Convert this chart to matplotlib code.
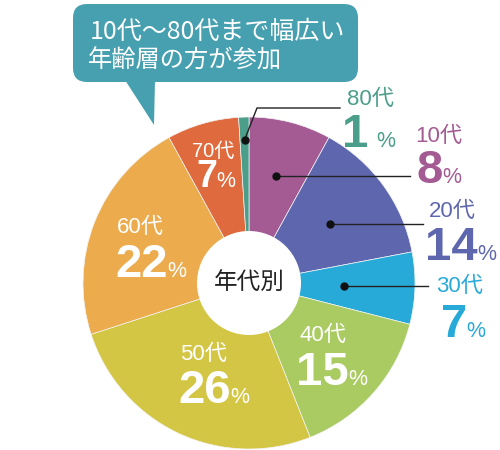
import matplotlib
matplotlib.use("Agg")
import matplotlib.pyplot as plt
from matplotlib.patches import FancyBboxPatch, Polygon, Circle
import numpy as np

# ---- data ----
categories = ["10代", "20代", "30代", "40代", "50代", "60代", "70代", "80代"]
percents = [8, 14, 7, 15, 26, 22, 7, 1]
colors = ["#A45A93", "#5E67AE", "#28AAD8", "#AACB62", "#D4C645", "#ECAC4E", "#DF6A3D", "#4A9E8A"]
center_label = "年代別"
bubble_lines = ["10代〜80代まで幅広い", "年齢層の方が参加"]

# ---- layout (pixel coords, y down) ----
W, H = 500, 450
CX, CY, R, R_IN = 249, 283, 166, 52

# label layout: (small-label left x, small baseline y, junction x, number baseline y,
#                inside, small fs, number fs, % gap)
label_layout = {
    "10代": (415, 142, 443, 183, False, 16, 34, -1),
    "20代": (429, 217, 478, 260, False, 16, 34, -1),
    "30代": (436, 292, 467, 337, False, 16, 34, -1),
    "40代": (300, 341, 349, 385, True, 16, 34, -1),
    "50代": (180, 360, 231, 403, True, 16, 34, -1),
    "60代": (117, 233, 168, 277, True, 16, 34, -1),
    "70代": (192, 157, 217, 187, True, 14.5, 27, -1),
    "80代": (347, 105, 368, 147, False, 16, 34, 8),
}
# leader lines: dot radius, optional elbow point, end x
leaders = {
    "10代": (110, None, 410),
    "20代": (100, None, 423),
    "30代": (95, None, 428),
    "80代": (143, (257, 108), 340),
}

def Y(y):
    return H - y

fig = plt.figure(figsize=(5, 4.5), dpi=100)
ax = fig.add_axes([0, 0, 1, 1])

wedges, _ = ax.pie(percents, colors=colors, startangle=90, counterclock=False,
                   center=(CX, Y(CY)), radius=R, frame=True,
                   wedgeprops=dict(linewidth=0.5, edgecolor="#f4f4f4"))
ax.set_xlim(0, W)
ax.set_ylim(0, H)
ax.set_aspect("equal")
ax.axis("off")

ax.add_patch(Circle((CX, Y(CY)), R_IN, facecolor="white", edgecolor="none", zorder=3))
ax.text(CX, Y(CY), center_label, ha="center", va="center", fontsize=17,
        family=["Noto Sans CJK JP"], color="#222222", zorder=4)

# speech bubble
bub_col = "#46A0B0"
ax.add_patch(FancyBboxPatch((73 + 14, Y(82) + 14), 358 - 73 - 28, 82 - 4 - 28,
                            boxstyle="round,pad=14", facecolor=bub_col, edgecolor="none", zorder=5))
ax.add_patch(Polygon([(125, Y(80)), (155, Y(80)), (154, Y(125))], closed=True,
                     facecolor=bub_col, edgecolor="none", zorder=5))
ax.text(90, Y(32), bubble_lines[0], ha="left", va="center", fontsize=18, color="white",
        family=["Noto Sans CJK JP"], zorder=6)
ax.text(88, Y(61), bubble_lines[1], ha="left", va="center", fontsize=17.5, color="white",
        family=["Noto Sans CJK JP"], zorder=6)

fam = ["Liberation Sans", "Noto Sans CJK JP"]
for cat, p, col, w in zip(categories, percents, colors, wedges):
    mid = np.deg2rad((w.theta1 + w.theta2) / 2)
    sx, sy, jx, ny, inside, sfs, nfs, gap = label_layout[cat]
    tc = "white" if inside else col
    ax.text(sx, Y(sy), cat, ha="left", va="baseline", fontsize=sfs, color=tc, family=fam, zorder=6)
    ax.text(jx, Y(ny), str(p), ha="right", va="baseline", fontsize=nfs, fontweight="bold",
            color=tc, family=fam, zorder=6)
    ax.text(jx + gap, Y(ny), "%", ha="left", va="baseline", fontsize=15.5, color=tc, family=fam, zorder=6)
    if cat in leaders:
        rr, elbow, ex = leaders[cat]
        dx = CX + rr * np.cos(mid)
        dy = Y(CY) + rr * np.sin(mid)
        if elbow is None:
            xs, ys = [dx, ex], [dy, dy]
        else:
            xs, ys = [dx, elbow[0], ex], [dy, Y(elbow[1]), Y(elbow[1])]
        ax.plot(xs, ys, color="#222222", lw=1, zorder=6)
        ax.plot([dx], [dy], "o", color="#111111", ms=5, zorder=7)

fig.savefig("out.png", dpi=100)
